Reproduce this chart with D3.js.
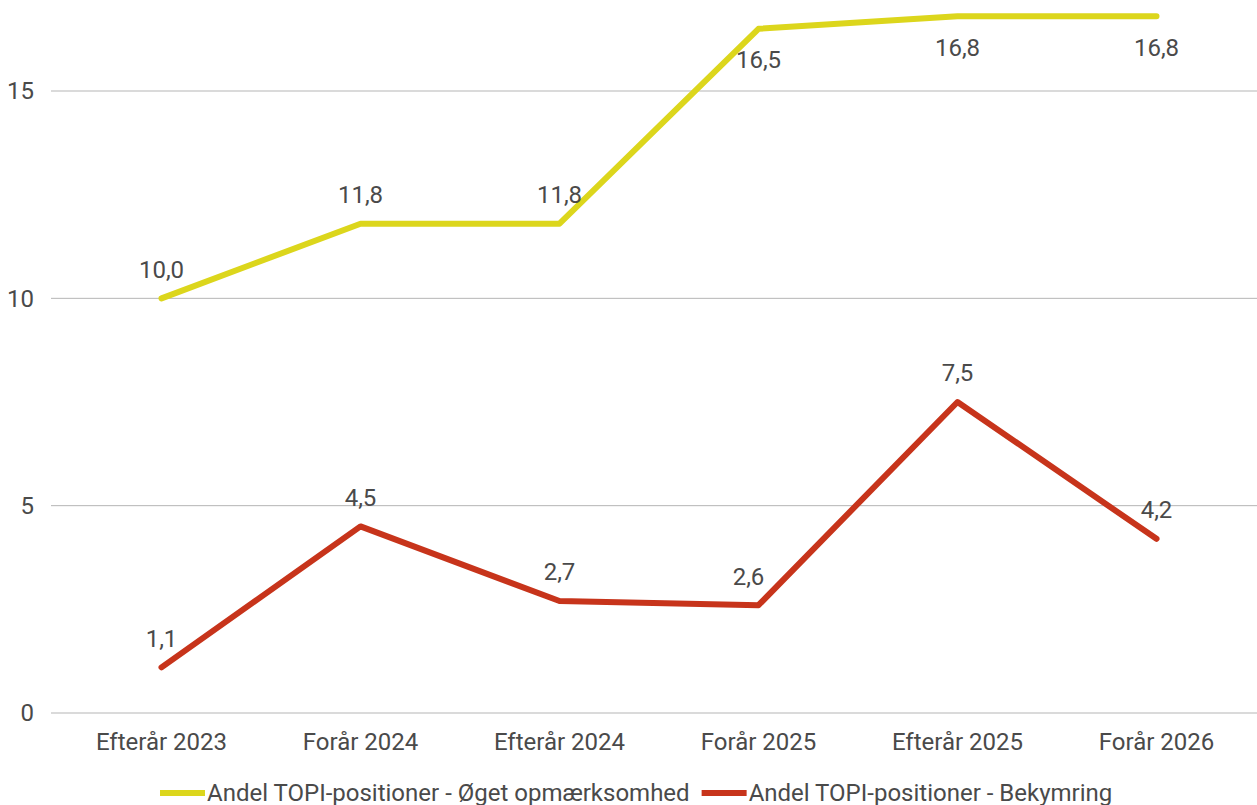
<!DOCTYPE html>
<html>
<head>
<meta charset="utf-8">
<script src="https://cdn.jsdelivr.net/npm/d3@7"></script>
<style>
  body { margin: 0; background: #fff; }
  text { font-family: Roboto, sans-serif; fill: #4a4a4a; }
</style>
</head>
<body>
<div id="chart"></div>
<script>
const width = 1257;
const height = 805;

const categories = ['Efterår 2023', 'Forår 2024', 'Efterår 2024', 'Forår 2025', 'Efterår 2025', 'Forår 2026'];
const awareness = [10.0, 11.8, 11.8, 16.5, 16.8, 16.8];
const concern = [1.1, 4.5, 2.7, 2.6, 7.5, 4.2];
const yTicks = [0, 5, 10, 15];
const seriesNames = ['Andel TOPI-positioner - Øget opmærksomhed', 'Andel TOPI-positioner - Bekymring'];
const colors = ['#dcd61c', '#c7341b'];

const svg = d3.select('#chart')
  .append('svg')
  .attr('width', width)
  .attr('height', height);

const xScale = d3.scalePoint()
  .domain(categories)
  .range([62, 1256])
  .padding(0.5);

const yScale = d3.scaleLinear()
  .domain([0, 15])
  .range([713, 91]);

const fmt = (v) => d3.format('.1f')(v).replace('.', ',');

// grid + y labels
svg.append('g')
  .selectAll('line')
  .data(yTicks)
  .enter()
  .append('line')
  .attr('x1', 51)
  .attr('x2', width)
  .attr('y1', (d) => yScale(d))
  .attr('y2', (d) => yScale(d))
  .attr('stroke', '#b5b5b5')
  .attr('stroke-width', 1);

svg.append('g')
  .selectAll('text')
  .data(yTicks)
  .enter()
  .append('text')
  .attr('x', 34)
  .attr('y', (d) => yScale(d))
  .attr('dy', '0.35em')
  .attr('text-anchor', 'end')
  .style('font-size', '24px')
  .text((d) => d);

// x labels
svg.append('g')
  .selectAll('text')
  .data(categories)
  .enter()
  .append('text')
  .attr('x', (d) => xScale(d))
  .attr('y', 742)
  .attr('dy', '0.35em')
  .attr('text-anchor', 'middle')
  .style('font-size', '24px')
  .text((d) => d);

const line = d3.line()
  .x((d, i) => xScale(categories[i]))
  .y((d) => yScale(d));

[awareness, concern].forEach((values, s) => {
  svg.append('path')
    .datum(values)
    .attr('fill', 'none')
    .attr('stroke', colors[s])
    .attr('stroke-width', 6)
    .attr('stroke-linecap', 'round')
    .attr('stroke-linejoin', 'round')
    .attr('d', line);

  svg.append('g')
    .selectAll('text')
    .data(values)
    .enter()
    .append('text')
    .attr('x', (d, i) => xScale(categories[i]) + (s === 1 && i === 3 ? -10 : 0))
    .attr('y', (d) => {
      const y = yScale(d);
      // no room above near the top: put label underneath
      return y < 40 ? y + 31 : y - 29;
    })
    .attr('dy', '0.35em')
    .attr('text-anchor', 'middle')
    .style('font-size', '24px')
    .text((d) => fmt(d));
});

// legend
const legend = svg.append('g');
let lx = 160;
seriesNames.forEach((name, s) => {
  legend.append('line')
    .attr('x1', lx)
    .attr('x2', lx + 45)
    .attr('y1', 793)
    .attr('y2', 793)
    .attr('stroke', colors[s])
    .attr('stroke-width', 6);
  const t = legend.append('text')
    .attr('x', lx + 47)
    .attr('y', 793)
    .attr('dy', '0.35em')
    .style('font-size', '24px')
    .text(name);
  lx += 47 + t.node().getComputedTextLength() + 12;
});
</script>
</body>
</html>
